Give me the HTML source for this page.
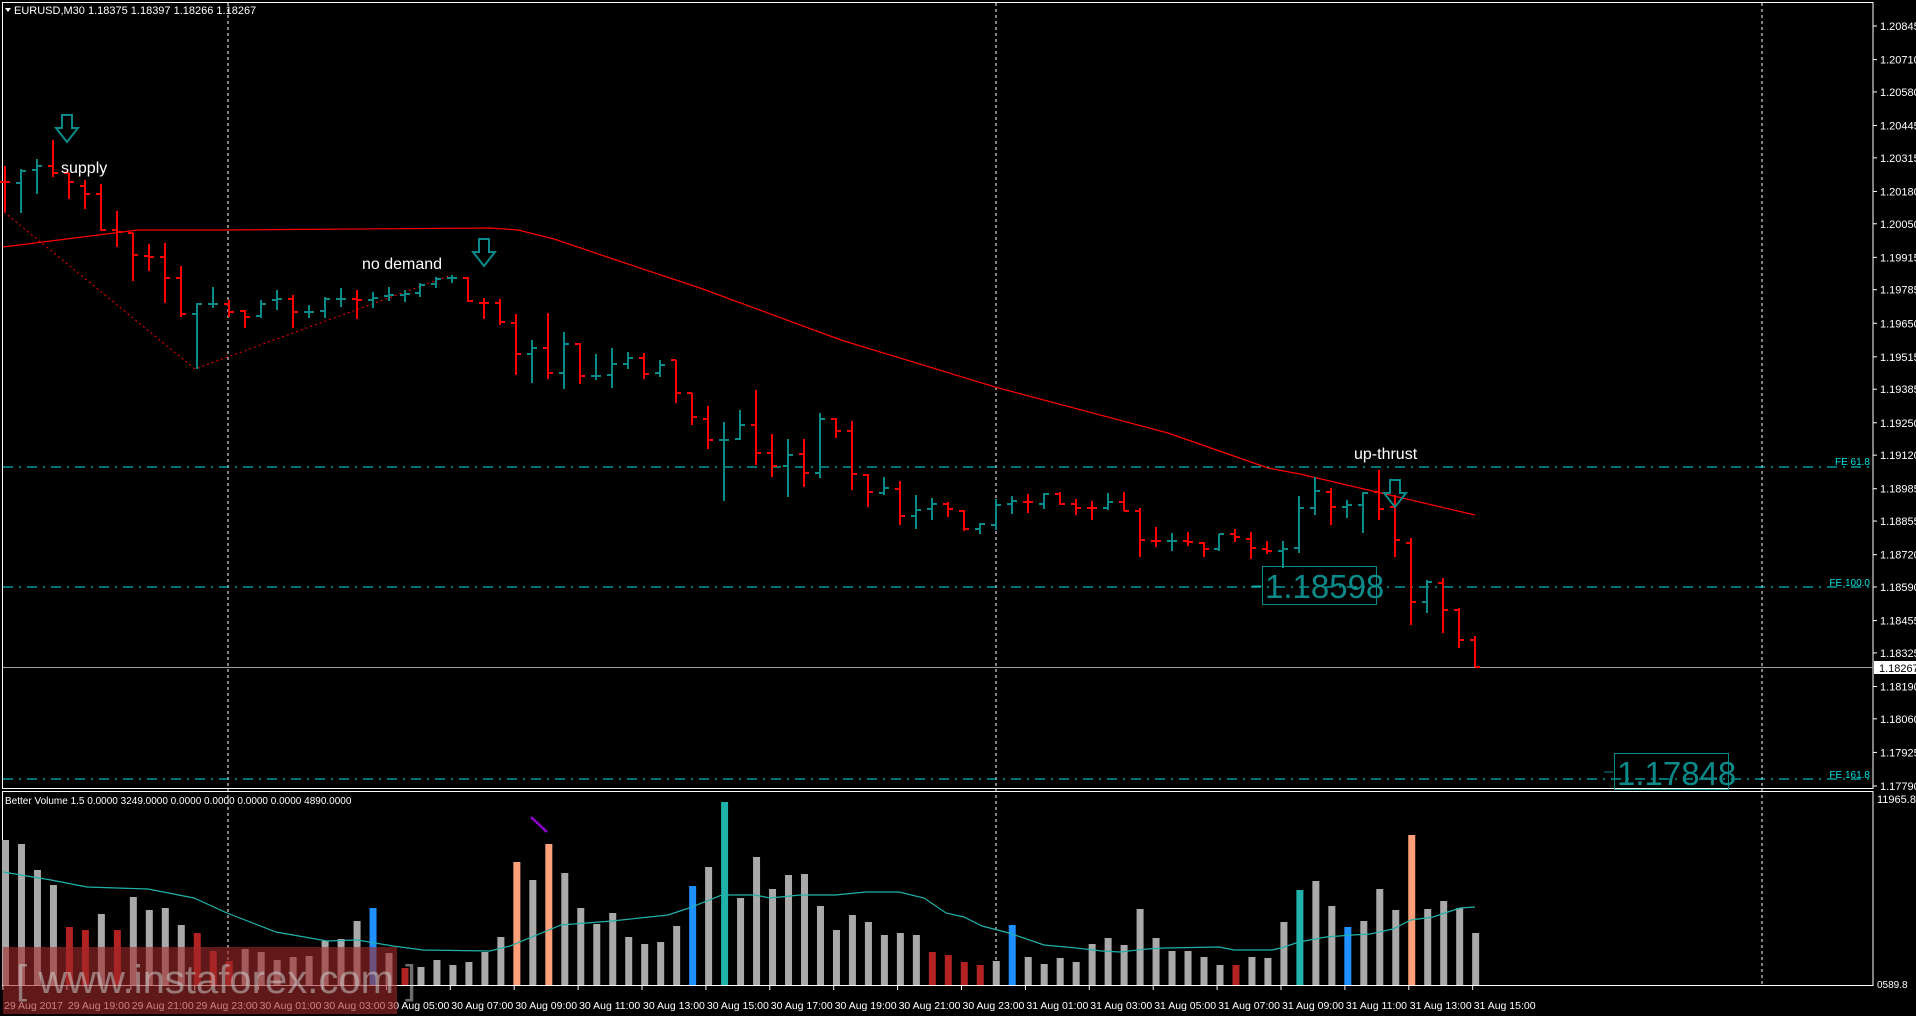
<!DOCTYPE html>
<html><head><meta charset="utf-8"><style>
html,body{margin:0;padding:0;background:#000;width:1916px;height:1016px;overflow:hidden}
svg{display:block}
text{font-family:"Liberation Sans",sans-serif}
</style></head><body>
<svg id="s" xmlns="http://www.w3.org/2000/svg" width="1916" height="1016" viewBox="0 0 1916 1016">
<rect width="1916" height="1016" fill="#000"/>
<g id="grid"></g>
<g id="bars"></g>
<g id="vol"></g>
<g id="txt"></g>
</svg>
<script>
var NS="http://www.w3.org/2000/svg";
function el(parent,tag,attrs,text){var e=document.createElementNS(NS,tag);for(var k in attrs)e.setAttribute(k,attrs[k]);if(text!==undefined)e.textContent=text;document.getElementById(parent).appendChild(e);return e;}
function X(i){return 5+15.98*i;}
// panels borders
el('grid','rect',{x:2.5,y:2.5,width:1870.5,height:786,fill:'none',stroke:'#fff','stroke-width':1});
el('grid','rect',{x:2.5,y:791.5,width:1870.5,height:194,fill:'none',stroke:'#fff','stroke-width':1});
// vertical dashed
[228,996,1762].forEach(function(x){el('grid','line',{x1:x,y1:3,x2:x,y2:985,stroke:'#fff','stroke-width':1,'stroke-dasharray':'3,3'});});
// FE lines
[[467,'FE 61.8',461],[587,'FE 100.0',582],[779,'FE 161.8',774]].forEach(function(f){
 el('grid','line',{x1:3,y1:f[0],x2:1872,y2:f[0],stroke:'#00e5e5','stroke-width':1,'stroke-dasharray':'10,6,2,6'});
 el('txt','text',{x:1870,y:f[2]+4,fill:'#00e5e5','font-size':10,'text-anchor':'end'},f[1]);
});
// current price line
el('grid','line',{x1:3,y1:667.5,x2:1873,y2:667.5,stroke:'#9aa0a8','stroke-width':1});
// price axis
var labs=['1.20845','1.20710','1.20580','1.20445','1.20315','1.20180','1.20050','1.19915','1.19785','1.19650','1.19515','1.19385','1.19250','1.19120','1.18985','1.18855','1.18720','1.18590','1.18455','1.18325','1.18190','1.18060','1.17925','1.17790'];
labs.forEach(function(l){var p=parseFloat(l);var y=26+(1.20845-p)/0.03055*760;
 el('grid','line',{x1:1873,y1:y,x2:1877,y2:y,stroke:'#fff'});
 el('txt','text',{x:1880,y:y+4,fill:'#fff','font-size':11},l);});
el('grid','rect',{x:1874,y:661,width:42,height:13,fill:'#fff'});
el('txt','text',{x:1879,y:672,fill:'#000','font-size':11},'1.18267');
el('txt','text',{x:1877,y:803,fill:'#fff','font-size':11},'11965.8');
el('txt','text',{x:1877,y:988,fill:'#fff','font-size':10},'0589.8');
// MA main
el('bars','polyline',{points:'3,247 138,230 219,230 491,228 518,230 554,239 616,260 700,288 841,340 995,387 1168,433 1268,468 1300,474 1475,515',fill:'none',stroke:'#f00','stroke-width':1.2});
el('bars','polyline',{points:'4,212 195,369 451,275',fill:'none',stroke:'#f00','stroke-width':1,'stroke-dasharray':'2,3'});
// OHLC bars [c,h,l,o,cl]
var B=[['r',166,212,182,182],['t',169,213,183,171],['t',159,194,170,166],['r',140,177,166,173],['r',173,199,173,182],['r',180,209,186,194],['r',184,231,194,230],['r',211,247,230,232],['r',233,281,233,255],['r',244,271,256,257],
['r',243,303,257,278],['r',266,317,278,314],['t',303,369,314,304],['t',287,308,304,304],['r',300,317,304,312],['r',310,328,311,317],['t',300,318,316,304],['t',290,310,300,299],['r',295,328,299,312],['t',305,318,312,312],
['t',297,318,311,299],['t',288,307,299,299],['r',290,319,299,300],['t',292,308,300,298],['t',287,301,296,295],['t',290,302,295,294],['t',283,297,293,285],['t',277,288,284,279],['t',275,283,278,278],['r',277,302,278,301],
['r',298,319,303,303],['r',299,325,303,322],['r',314,375,323,354],['t',340,383,354,348],['r',313,379,348,373],['t',332,389,373,344],['r',343,384,344,376],['t',354,380,376,376],['t',348,388,375,364],['t',352,369,364,358],
['r',353,379,358,374],['t',360,377,373,365],['r',360,403,360,393],['r',393,425,393,417],['r',406,449,419,440],['t',422,501,440,440],['t',410,440,439,425],['r',390,465,425,453],['r',434,477,453,466],['t',439,497,466,455],
['r',439,487,454,473],['t',413,478,473,419],['r',418,438,419,431],['r',421,490,431,474],['r',474,507,475,492],['t',477,495,493,488],['r',481,525,489,516],['t',495,529,516,510],['t',498,520,509,504],['r',502,517,504,509],
['r',510,531,511,529],['t',523,534,529,524],['t',499,530,525,505],['t',496,514,504,501],['r',494,513,502,502],['t',493,509,504,494],['r',492,505,494,504],['r',499,515,504,508],['r',501,520,508,508],['t',493,510,508,502],
['r',492,511,502,511],['r',508,557,511,540],['r',527,547,541,541],['t',533,551,541,541],['r',532,546,541,542],['r',542,557,543,549],['t',534,551,549,534],['r',529,542,534,537],['r',532,559,539,548],['r',541,554,549,551],
['t',541,568,551,549],['t',496,553,548,508],['t',477,515,508,491],['r',488,525,492,507],['t',500,518,507,505],['t',492,533,505,493],['r',470,520,492,509],['r',495,557,507,540],['r',538,625,543,602],['t',580,613,602,582],
['r',578,633,583,610],['r',608,648,610,640],['r',636,667,640,667]];
B.forEach(function(b,i){var x=Math.round(X(i))+0.0;var c=b[0]=='r'?'#ff0000':'#0b8a8a';
 el('bars','line',{x1:x,y1:b[1],x2:x,y2:b[2],stroke:c,'stroke-width':2});
 el('bars','line',{x1:x-5,y1:b[3],x2:x,y2:b[3],stroke:c,'stroke-width':2});
 el('bars','line',{x1:x,y1:b[4],x2:x+5,y2:b[4],stroke:c,'stroke-width':2});});
// arrows
function arrow(x,y){var w=22,h=27;var p=[[x+6,y],[x+16,y],[x+16,y+13],[x+22,y+13],[x+11,y+27],[x,y+13],[x+6,y+13]].map(function(a){return a.join(',')}).join(' ');
 el('txt','polygon',{points:p,fill:'none',stroke:'#0b8a8a','stroke-width':2});}
arrow(56,115);arrow(473,239);arrow(1384,480);
el('txt','text',{x:61,y:173,fill:'#fff','font-size':16},'supply');
el('txt','text',{x:362,y:269,fill:'#fff','font-size':16},'no demand');
el('txt','text',{x:1354,y:459,fill:'#fff','font-size':16},'up-thrust');
// boxes
el('txt','rect',{x:1262.5,y:566.5,width:114,height:38,fill:'none',stroke:'#0b8a8a','stroke-width':1});
el('txt','text',{x:1265,y:598,fill:'#0b8a8a','font-size':33},'1.18598');
el('txt','line',{x1:1252,y1:586,x2:1262,y2:586,stroke:'#0b8a8a'});
el('txt','rect',{x:1614.5,y:753.5,width:114,height:36,fill:'none',stroke:'#0b8a8a','stroke-width':1});
el('txt','text',{x:1617,y:785,fill:'#0b8a8a','font-size':33},'1.17848');
el('txt','line',{x1:1604,y1:772,x2:1613,y2:772,stroke:'#0b8a8a'});
// title
el('txt','polygon',{points:'5,8 11,8 8,12',fill:'#fff'});
el('txt','text',{x:14,y:14,fill:'#fff','font-size':11},'EURUSD,M30  1.18375 1.18397 1.18266 1.18267');
el('txt','text',{x:5,y:804,fill:'#fff','font-size':10},'Better Volume 1.5 0.0000 3249.0000 0.0000 0.0000 0.0000 0.0000 4890.0000');
// volume
var G='#a9a9a9',R='#b22222',BL='#1e90ff',T='#20b2aa',S='#ffa07a';
var V=[[G,840],[G,844],[G,870],[G,885],[R,927],[R,930],[G,914],[R,930],[G,897],[G,910],[G,908],[G,925],[R,933],[R,951],[R,961],[G,949],[G,952],[G,960],[G,957],[G,956],
[G,941],[G,939],[G,921],[BL,908],[G,953],[R,968],[G,967],[G,960],[G,965],[G,962],[G,952],[G,937],[S,862],[G,880],[S,844],[G,873],[G,908],[G,924],[G,913],[G,937],
[G,944],[G,942],[G,926],[BL,886],[G,867],[T,802],[G,898],[G,857],[G,889],[G,875],[G,874],[G,906],[G,930],[G,915],[G,922],[G,935],[G,933],[G,935],[R,952],[R,955],
[R,962],[R,965],[G,961],[BL,925],[G,957],[G,964],[G,958],[G,962],[G,944],[G,938],[G,945],[G,909],[G,938],[G,951],[G,951],[G,957],[G,965],[R,965],[G,957],[G,958],
[G,922],[T,890],[G,881],[G,906],[BL,927],[G,921],[G,889],[G,910],[S,835],[G,909],[G,901],[G,908],[G,933]];
V.forEach(function(v,i){var x=X(i);el('vol','rect',{x:x-3,y:v[1],width:7,height:985-v[1],fill:v[0]});});
el('vol','polyline',{points:'3,872 51,880 87,887 148,889 194,898 227,913 276,932 327,941 357,940 393,946 423,950 490,951 510,946 561,925 612,921 668,915 689,908 722,895 755,895 770,898 800,895 835,895 866,892 899,892 924,898 946,913 964,917 982,926 1009,933 1044,945 1076,948 1102,951 1120,952 1147,949 1165,948 1219,947 1234,950 1272,950 1281,948 1299,942 1326,937 1352,935 1370,934 1393,929 1411,920 1433,917 1460,908 1475,907',fill:'none',stroke:'#20b2aa','stroke-width':1.2});
el('vol','line',{x1:531,y1:817,x2:547,y2:832,stroke:'#9400d3','stroke-width':2.5});
// time axis
var tl=['29 Aug 2017','29 Aug 19:00','29 Aug 21:00','29 Aug 23:00'];
for(var h=1;h<=23;h+=2)tl.push('30 Aug '+(h<10?'0':'')+h+':00');
for(var h=1;h<=15;h+=2)tl.push('31 Aug '+(h<10?'0':'')+h+':00');
tl.forEach(function(t,k){var x=3+63.9*k;el('grid','line',{x1:x,y1:986,x2:x,y2:990,stroke:'#fff'});
 el('txt','text',{x:x+1,y:1009,fill:'#fff','font-size':10.5},t);});
// watermark
el('txt','rect',{x:3,y:947,width:394,height:67,fill:'rgba(160,40,40,0.6)'});
el('txt','text',{x:16,y:993,fill:'rgba(200,200,200,0.55)','font-size':40},'[ www.instaforex.com ]');
</script>
</body></html>
